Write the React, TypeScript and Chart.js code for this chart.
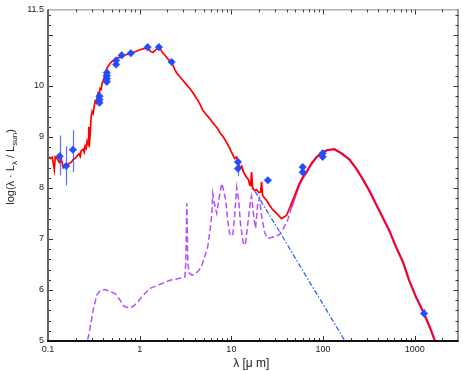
import React, { useEffect, useRef } from 'react';
import { Chart, registerables } from 'chart.js';
Chart.register(...registerables);

// ---- total model (red) ----
const totalLambda = [0.100, 0.1059, 0.1113, 0.1171, 0.120, 0.1262, 0.1327, 0.1395, 0.1466, 0.1542, 0.1621, 0.1704, 0.1792, 0.1884, 0.198, 0.2082, 0.2189, 0.2244, 0.2301, 0.2419, 0.248, 0.2543, 0.2608, 0.2674, 0.2742, 0.278, 0.2811, 0.2883, 0.2956, 0.3031, 0.3107, 0.3186, 0.3267, 0.335, 0.3435, 0.3522, 0.3611, 0.3702, 0.3796, 0.3892, 0.399, 0.4091, 0.4195, 0.4301, 0.441, 0.4521, 0.4753, 0.4997, 0.5388, 0.5808, 0.6422, 0.7099, 0.7845, 0.8889, 1.0076, 1.1136, 1.2006, 1.262, 1.327, 1.395, 1.467, 1.581, 1.662, 1.748, 1.884, 2.031, 2.244, 2.419, 2.543, 2.742, 2.956, 3.186, 3.523, 3.797, 4.197, 4.524, 4.876, 5.256, 5.808, 6.261, 6.749, 7.097, 7.65, 8.246, 8.889, 9.583, 10.08, 10.86, 11.42, 12.31, 12.94, 13.61, 14.67, 15.42, 15.81, 16.21, 16.62, 17.04, 17.92, 18.84, 19.81, 20.82, 21.35, 21.89, 23.01, 24.19, 26.09, 28.11, 31.08, 35.22, 39.92, 45.23, 50.01, 55.26, 61.08, 65.83, 74.64, 84.56, 98.26, 111.4, 132.7, 158.1, 193.2, 230.1, 267.5, 318.7, 409.3, 525.7, 626.2, 746.3, 867, 1033, 1262, 1504, 1662, 2000];
const totalValue = [8.62, 8.58, 8.60, 8.36, 8.61, 8.57, 8.50, 8.56, 8.40, 8.46, 8.44, 8.48, 8.50, 8.56, 8.58, 8.63, 8.67, 8.62, 8.73, 8.76, 8.70, 8.82, 8.78, 8.92, 8.86, 9.20, 8.80, 9.05, 9.40, 9.50, 9.46, 9.60, 9.70, 9.67, 9.78, 9.86, 9.82, 9.95, 9.93, 10.05, 10.10, 10.16, 10.25, 10.30, 10.35, 10.38, 10.44, 10.48, 10.52, 10.55, 10.58, 10.61, 10.64, 10.67, 10.71, 10.73, 10.75, 10.71, 10.67, 10.66, 10.69, 10.75, 10.74, 10.67, 10.60, 10.53, 10.45, 10.32, 10.25, 10.18, 10.11, 10.04, 9.95, 9.87, 9.75, 9.65, 9.52, 9.45, 9.36, 9.28, 9.21, 9.16, 9.06, 8.99, 8.89, 8.78, 8.69, 8.58, 8.61, 8.38, 8.43, 8.31, 8.21, 8.16, 8.06, 8.05, 8.31, 7.99, 7.95, 7.97, 7.91, 7.92, 8.12, 7.86, 7.80, 7.76, 7.66, 7.58, 7.50, 7.40, 7.46, 7.70, 7.89, 8.09, 8.23, 8.31, 8.48, 8.60, 8.70, 8.74, 8.76, 8.68, 8.56, 8.38, 8.19, 7.95, 7.56, 7.17, 6.84, 6.54, 6.19, 5.86, 5.54, 5.21, 5.0, 4.6];

// ---- dust emission, PAH part (purple dashed) ----
const pahLambda = [0.2641, 0.2695, 0.2883, 0.3131, 0.3409, 0.3702, 0.4195, 0.4753, 0.5388, 0.6107, 0.6753, 0.7516, 0.8519, 0.9656, 1.094, 1.294, 1.662, 2.134, 2.742, 3.107, 3.186, 3.266, 3.35, 3.435, 3.702, 3.991, 4.412, 4.756, 5.127, 5.527, 5.808, 6.107, 6.261, 6.583, 6.921, 7.278, 7.847, 8.246, 8.67, 9.116, 9.583, 10.33, 10.86, 11.42, 12.01, 12.62, 13.61, 14.3, 15.04, 16.21, 16.62, 17.48, 18.37, 19.32, 20.31, 21.35, 23.01, 24.81, 27.42, 30.3, 33.5, 37.03, 40.93, 45.23, 50.01];
const pahValue = [4.85, 5.0, 5.27, 5.63, 5.90, 5.99, 6.01, 5.97, 5.93, 5.80, 5.68, 5.65, 5.68, 5.78, 5.90, 6.03, 6.11, 6.19, 6.23, 6.25, 6.55, 7.70, 6.55, 6.34, 6.29, 6.31, 6.38, 6.48, 6.66, 6.85, 7.13, 7.46, 7.89, 7.66, 7.50, 7.76, 8.09, 7.95, 7.76, 7.36, 7.10, 7.06, 7.46, 8.01, 7.76, 7.27, 6.88, 6.92, 7.27, 7.76, 7.84, 7.46, 7.21, 7.66, 7.80, 7.46, 7.13, 7.01, 7.03, 7.05, 7.09, 7.21, 7.36, 7.62, 7.86];

// ---- dust emission, far-IR part (purple solid) ----
const dustLambda = [45.23, 50.01, 55.26, 61.08, 65.83, 74.64, 84.56, 98.26, 111.4, 132.7, 158.1, 193.2, 230.1, 267.5, 318.7, 409.3, 525.7, 626.2, 746.3, 867, 1033, 1262, 1504, 1662, 2000];
const dustValue = [7.62, 7.86, 8.07, 8.22, 8.30, 8.47, 8.60, 8.70, 8.74, 8.76, 8.68, 8.56, 8.38, 8.19, 7.95, 7.56, 7.17, 6.84, 6.54, 6.19, 5.86, 5.54, 5.21, 5.0, 4.6];

// ---- stellar Rayleigh-Jeans tail (blue dash-dot) ----
const starLambda = [12, 18, 25, 35, 50, 70, 100, 140, 180];
const starValue = [8.46, 7.94, 7.52, 7.09, 6.62, 6.18, 5.72, 5.28, 4.95];

// ---- observed photometry (blue diamonds) ----
const obsLambda = [0.134, 0.158, 0.187, 0.364, 0.364, 0.364, 0.438, 0.438, 0.438, 0.438, 0.553, 0.553, 0.637, 0.80, 1.22, 1.62, 2.23, 11.8, 11.8, 25.0, 60, 60, 99, 99, 1262];
const obsValue = [8.62, 8.43, 8.75, 9.80, 9.73, 9.67, 10.26, 10.20, 10.14, 10.08, 10.50, 10.42, 10.60, 10.64, 10.76, 10.76, 10.47, 8.51, 8.38, 8.15, 8.41, 8.31, 8.68, 8.61, 5.54];
const obsErrLow = [8.25, 8.05, 8.31, null, null, null, null, null, null, null, null, null, null, null, null, null, null, null, 8.23, null, null, null, null, null, 5.45];
const obsErrHigh = [9.03, 8.82, 9.13, null, null, null, null, null, null, null, null, null, null, null, null, null, null, null, 8.45, null, null, null, null, null, 5.63];

// ---- axes ----
const xTickValues = [0.1, 1, 10, 100, 1000];
const xTickLabels = ['0.1', '1', '10', '100', '1000'];
const yTickValues = [5, 6, 7, 8, 9, 10, 11.5];
const yTickLabels = ['5', '6', '7', '8', '9', '10', '11.5'];
const xMin = 0.1, xMax = 3000, yMin = 5, yMax = 11.5;

const FONT = '"Liberation Sans", Arial, Helvetica, sans-serif';

const pts = (xs: number[], ys: number[]) => xs.map((x, i) => ({ x, y: ys[i] }));

const decorPlugin = {
  id: 'decor',
  afterDatasetsDraw(chart: any) {
    const { ctx, chartArea: a, scales } = chart;
    const xs = scales.x, ys = scales.y;
    ctx.save();
    // error bars
    ctx.strokeStyle = 'rgba(40,80,255,0.8)';
    ctx.lineWidth = 1.2;
    obsLambda.forEach((l, i) => {
      const lo = obsErrLow[i], hi = obsErrHigh[i];
      if (lo == null || hi == null) return;
      const px = Math.round(xs.getPixelForValue(l)) + 0.5;
      ctx.beginPath();
      ctx.moveTo(px, ys.getPixelForValue(lo));
      ctx.lineTo(px, ys.getPixelForValue(hi));
      ctx.stroke();
    });
    // inward tick marks
    ctx.strokeStyle = '#333';
    ctx.lineWidth = 1;
    ctx.beginPath();
    for (let k = 0; k <= 32; k++) {
      const v = yMin + k * 0.2;
      if (v > yMax + 1e-6) break;
      const major = Math.abs(v - Math.round(v)) < 1e-6;
      const len = major ? 5 : 3;
      const py = Math.round(ys.getPixelForValue(v)) + 0.5;
      ctx.moveTo(a.left, py); ctx.lineTo(a.left + len, py);
      ctx.moveTo(a.right, py); ctx.lineTo(a.right - len, py);
    }
    for (let d = 0.1; d < xMax; d *= 10) {
      for (let m = 1; m <= 9; m++) {
        const v = d * m;
        if (v >= xMax) break;
        const len = m === 1 ? 5 : 3;
        const px = Math.round(xs.getPixelForValue(v)) + 0.5;
        ctx.moveTo(px, a.top); ctx.lineTo(px, a.top + len);
        ctx.moveTo(px, a.bottom); ctx.lineTo(px, a.bottom - len);
      }
    }
    ctx.stroke();
    // frame
    ctx.lineWidth = 1;
    ctx.strokeStyle = '#888';
    ctx.beginPath(); ctx.moveTo(a.left, a.top + 0.5); ctx.lineTo(a.right, a.top + 0.5); ctx.stroke();
    ctx.strokeStyle = '#333';
    ctx.beginPath(); ctx.moveTo(a.right - 0.5, a.top); ctx.lineTo(a.right - 0.5, a.bottom); ctx.stroke();
    ctx.lineWidth = 2;
    ctx.strokeStyle = '#666';
    ctx.beginPath(); ctx.moveTo(a.left, a.top); ctx.lineTo(a.left, a.bottom); ctx.stroke();
    ctx.strokeStyle = '#111';
    ctx.beginPath(); ctx.moveTo(a.left - 1, a.bottom); ctx.lineTo(a.right, a.bottom); ctx.stroke();
    ctx.restore();
  },
  afterDraw(chart: any) {
    const { ctx, chartArea: a } = chart;
    ctx.save();
    ctx.fillStyle = '#222';
    ctx.textBaseline = 'alphabetic';
    // x title
    ctx.font = `12px ${FONT}`;
    ctx.textAlign = 'center';
    ctx.fillText('λ [μ m]', (a.left + a.right) / 2 - 2, 367);
    // y title with subscripts
    const parts = [
      { t: 'log(λ · L', sub: false },
      { t: 'λ', sub: true },
      { t: ' / L', sub: false },
      { t: 'sun', sub: true },
      { t: ')', sub: false },
    ];
    const mainFont = `11px ${FONT}`;
    const subFont = `8px ${FONT}`;
    let total = 0;
    parts.forEach((p) => { ctx.font = p.sub ? subFont : mainFont; total += ctx.measureText(p.t).width; });
    ctx.translate(14, 167);
    ctx.rotate(-Math.PI / 2);
    ctx.textAlign = 'left';
    let cx = -total / 2;
    parts.forEach((p) => {
      ctx.font = p.sub ? subFont : mainFont;
      ctx.fillText(p.t, cx, p.sub ? 3 : 0);
      cx += ctx.measureText(p.t).width;
    });
    ctx.restore();
  },
};

export default function App() {
  const ref = useRef<HTMLCanvasElement | null>(null);
  useEffect(() => {
    if (!ref.current) return;
    Chart.defaults.font.family = FONT;
    const chart = new Chart(ref.current, {
      type: 'scatter',
      data: {
        datasets: [
          {
            label: 'observed',
            data: pts(obsLambda, obsValue),
            pointStyle: 'rectRot',
            pointRadius: 3.8,
            backgroundColor: 'rgb(35,75,255)',
            borderColor: 'rgb(35,75,255)',
            borderWidth: 0.5,
            showLine: false,
          },
          {
            label: 'total',
            data: pts(totalLambda, totalValue),
            showLine: true,
            borderColor: '#ff0000',
            borderWidth: 1.7,
            pointRadius: 0,
            tension: 0,
            clip: 0,
          },
          {
            label: 'dust',
            data: pts(dustLambda, dustValue),
            showLine: true,
            borderColor: '#c040ee',
            borderWidth: 2.3,
            pointRadius: 0,
            clip: 0,
          },
          {
            label: 'stars',
            data: pts(starLambda, starValue),
            showLine: true,
            borderColor: '#3366ff',
            borderWidth: 1.3,
            borderDash: [5, 2, 1.5, 2],
            pointRadius: 0,
            clip: 0,
          },
          {
            label: 'pah',
            data: pts(pahLambda, pahValue),
            showLine: true,
            borderColor: '#b450ff',
            borderWidth: 1.5,
            borderDash: [6, 3],
            pointRadius: 0,
            clip: 0,
          },
        ],
      },
      options: {
        animation: false,
        responsive: false,
        devicePixelRatio: 1,
        layout: { padding: { top: 9, right: 3, left: 0, bottom: 0 } },
        plugins: { legend: { display: false }, tooltip: { enabled: false } },
        scales: {
          x: {
            type: 'logarithmic',
            min: xMin,
            max: xMax,
            position: 'bottom',
            grid: { display: false, drawTicks: false },
            border: { display: false },
            ticks: {
              padding: 3,
              color: '#222',
              font: { size: 9, family: FONT },
              autoSkip: false,
              maxRotation: 0,
              callback: (_v: any, i: number) => xTickLabels[i],
            },
            afterBuildTicks: (s: any) => { s.ticks = xTickValues.map((v) => ({ value: v })); },
            afterFit: (s: any) => { s.height = 30; },
          },
          y: {
            type: 'linear',
            min: yMin,
            max: yMax,
            grid: { display: false, drawTicks: false },
            border: { display: false },
            ticks: {
              padding: 4,
              color: '#222',
              font: { size: 9, family: FONT },
              autoSkip: false,
              callback: (_v: any, i: number) => yTickLabels[i],
            },
            afterBuildTicks: (s: any) => { s.ticks = yTickValues.map((v) => ({ value: v })); },
            afterFit: (s: any) => { s.width = 48; },
          },
        },
      },
      plugins: [decorPlugin],
    } as any);
    return () => chart.destroy();
  }, []);
  return (
    <div style={{ position: 'absolute', left: 0, top: 0, width: 463, height: 371, background: '#fff' }}>
      <canvas ref={ref} width={463} height={371} style={{ display: 'block' }} />
    </div>
  );
}
